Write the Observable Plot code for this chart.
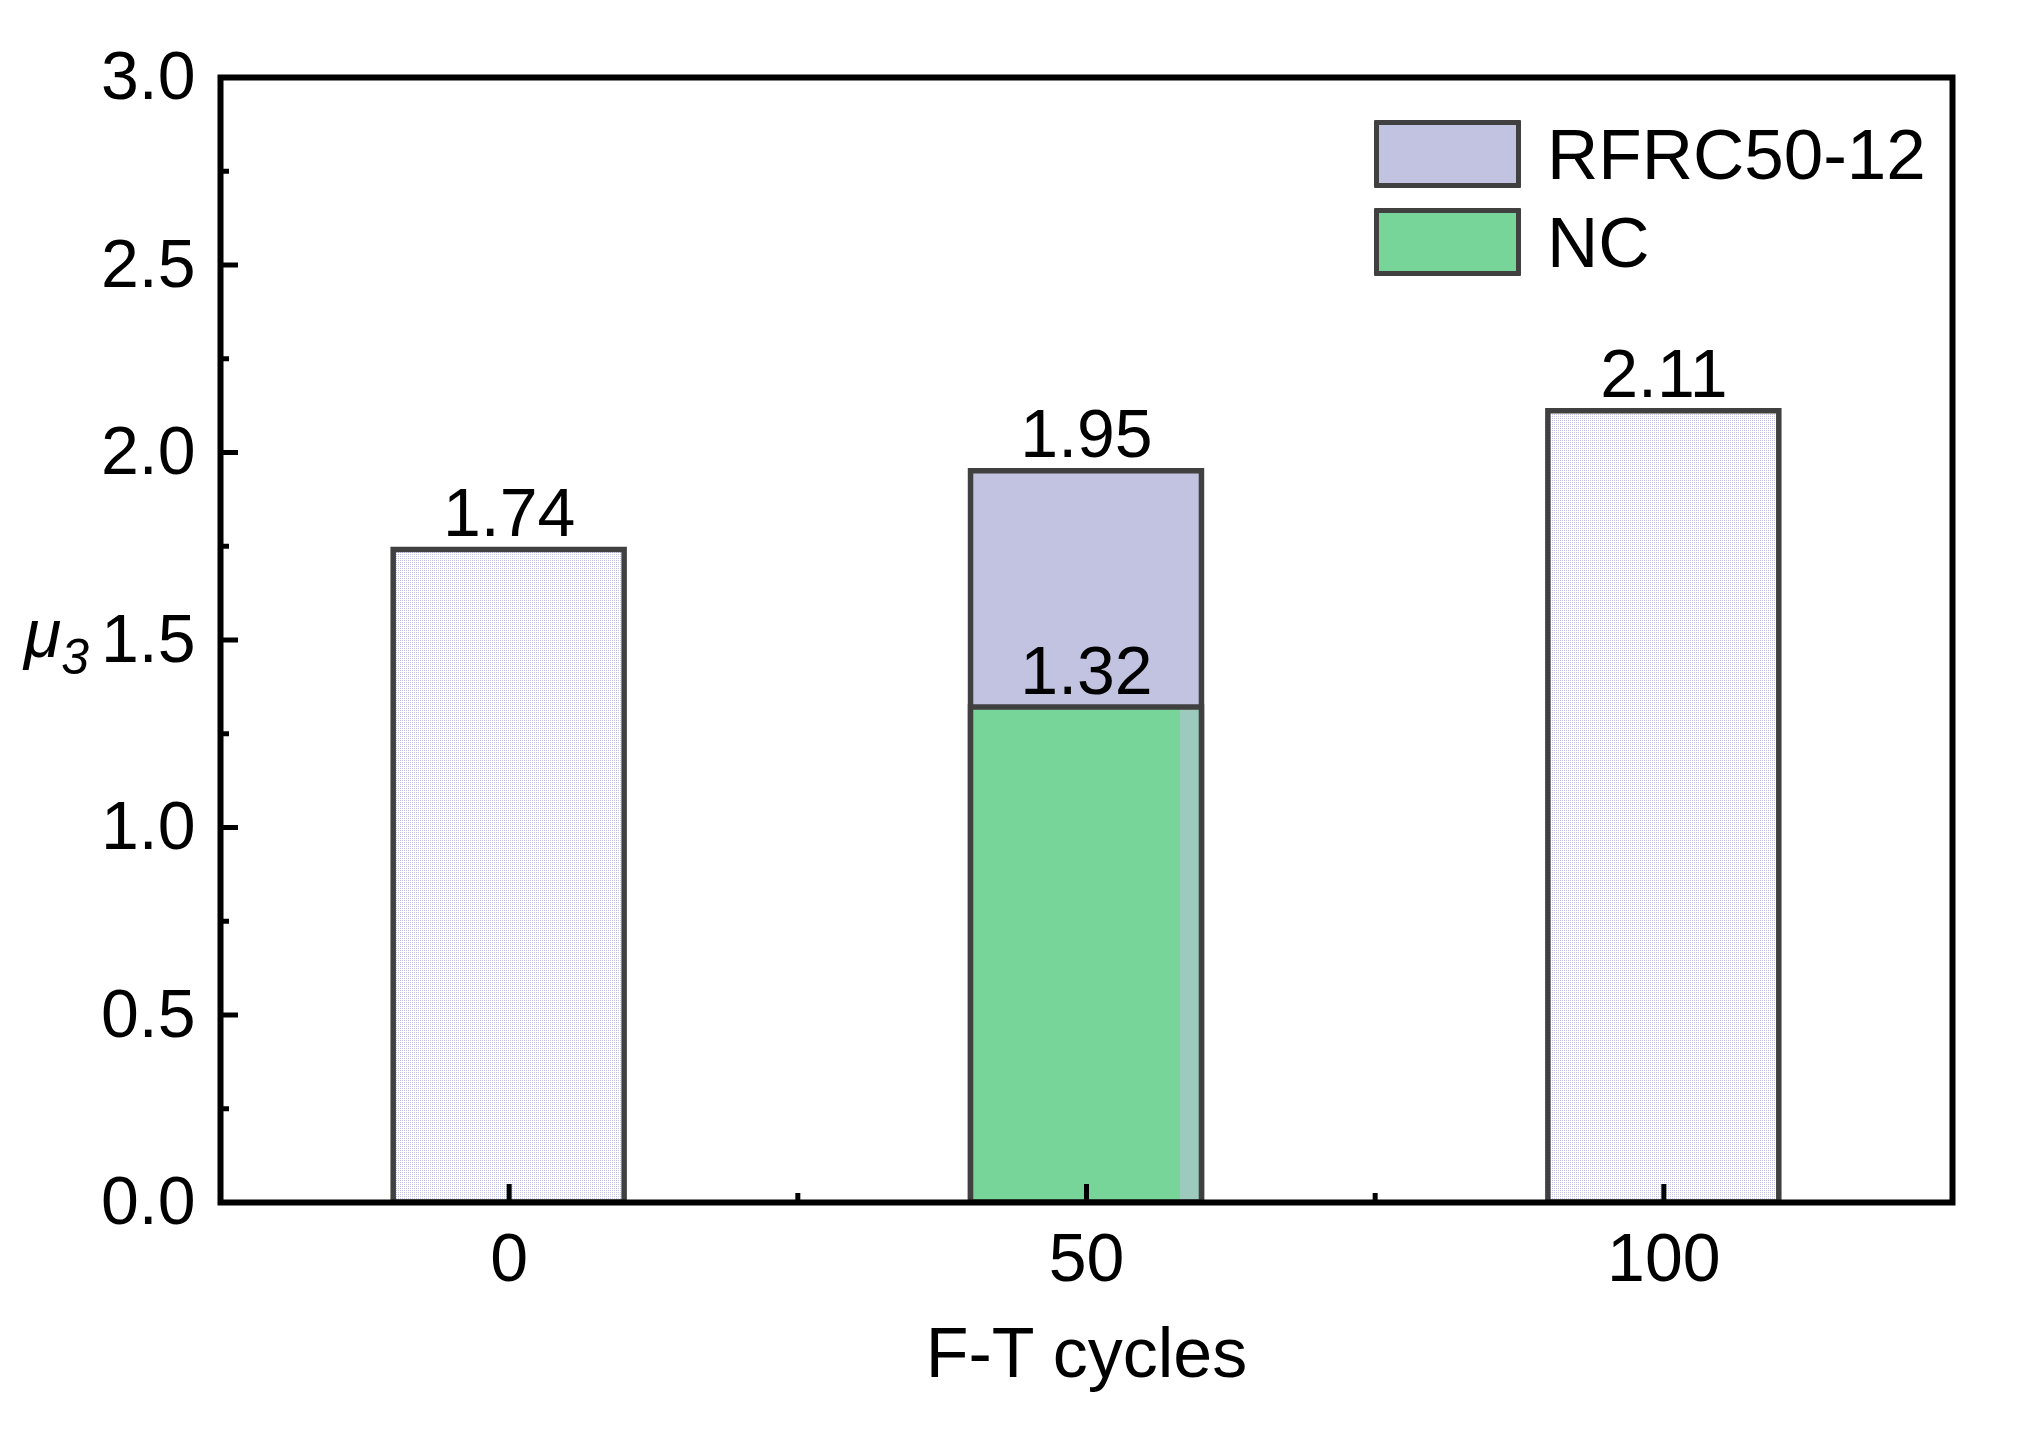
<!DOCTYPE html>
<html>
<head>
<meta charset="utf-8">
<script src="https://cdn.jsdelivr.net/npm/d3@7"></script>
<script src="https://cdn.jsdelivr.net/npm/@observablehq/plot@0.6"></script>
<style>
  html, body { margin: 0; padding: 0; background: #fff; }
  #wrap { position: relative; width: 2023px; height: 1450px; font-family: Arial, "Liberation Sans", sans-serif; }
  .legend { position: absolute; left: 1374px; top: 110px; }
  .legend .row { display: flex; align-items: center; height: 88px; }
  .legend .sw { width: 137px; height: 58px; border: 5px solid #404040; box-sizing: content-box; border-radius: 1px; }
  .legend .lab { margin-left: 26px; font-size: 71px; color: #000; line-height: 1; }
</style>
</head>
<body>
<div id="wrap"></div>
<script>
// ---- data ----
const cycles = [0, 50, 100];
const rfrcValues = [1.74, 1.95, 2.11];
const ncCycles = [50];
const ncValues = [1.32];
const seriesNames = ["RFRC50-12", "NC"];
const yMajorTicks = [0, 0.5, 1.0, 1.5, 2.0, 2.5, 3.0];
const yMinorTicks = [0.25, 0.75, 1.25, 1.75, 2.25, 2.75];
const xMajorTicks = [0, 50, 100];
const xMinorTicks = [25, 75];
const xAxisTitle = "F-T cycles";

// ---- styles ----
const lavender = "#c1c3e0";
const green = "#77d59a";
const edge = "#404040";
const barHalf = 10; // half bar width in x units
const fontSize = 68;

const rfrc = cycles.map((c, i) => ({cycle: c, value: rfrcValues[i], hasNC: ncCycles.includes(c)}));
const nc = ncCycles.map((c, i) => ({cycle: c, value: ncValues[i]}));

const chart = Plot.plot({
  width: 2023,
  height: 1450,
  marginLeft: 220,
  marginRight: 71,
  marginTop: 77,
  marginBottom: 248,
  style: {fontFamily: 'Arial, "Liberation Sans", sans-serif', background: "#fff", color: "#000", overflow: "visible"},
  x: {domain: [-25, 125]},
  y: {domain: [0, 3]},
  marks: [
    Plot.rect(rfrc, {
      x1: d => d.cycle - barHalf, x2: d => d.cycle + barHalf, y1: 0, y2: "value",
      fill: d => d.hasNC ? lavender : "url(#rfrcDots)", stroke: edge, strokeWidth: 5.5
    }),
    Plot.rect(nc, {
      x1: d => d.cycle - barHalf, x2: d => d.cycle + barHalf, y1: 0, y2: "value",
      fill: "url(#ncFill)", stroke: edge, strokeWidth: 5.5
    }),
    Plot.frame({stroke: "#000", strokeWidth: 6}),
    Plot.axisY({ticks: yMajorTicks, tickSize: -18, tickPadding: 43, tickFormat: d3.format(".1f"), fontSize, strokeWidth: 5, label: null}),
    Plot.axisY({ticks: yMinorTicks, tickSize: -9, tickFormat: () => "", strokeWidth: 5, label: null}),
    Plot.axisX({ticks: xMajorTicks, tickSize: -18, tickPadding: 48, tickFormat: d => String(d), fontSize, strokeWidth: 5, label: null}),
    Plot.axisX({ticks: xMinorTicks, tickSize: -9, tickFormat: () => "", strokeWidth: 5, label: null}),
    Plot.text(rfrc, {x: "cycle", y: "value", text: d => d.value.toFixed(2), lineAnchor: "bottom", dy: -14, fontSize, fill: "#000"}),
    Plot.text(nc, {x: "cycle", y: "value", text: d => d.value.toFixed(2), lineAnchor: "bottom", dy: -14, fontSize, fill: "#000"}),
    Plot.text([xAxisTitle], {text: d => d, frameAnchor: "bottom", lineAnchor: "bottom", dy: 174, fontSize: 70, fill: "#000"})
  ]
});

d3.select(chart).insert("defs", ":first-child").html(`
  <pattern id="rfrcDots" width="2" height="2" patternUnits="userSpaceOnUse">
    <rect width="2" height="2" fill="#ffffff"/>
    <rect width="1" height="1" fill="${lavender}"/>
  </pattern>
  <linearGradient id="ncFill" x1="0" x2="1" y1="0" y2="0">
    <stop offset="0" stop-color="${green}"/>
    <stop offset="0.905" stop-color="${green}"/>
    <stop offset="0.905" stop-color="#9ccbbd"/>
    <stop offset="1" stop-color="#9ccbbd"/>
  </linearGradient>`);

// y-axis label: μ with subscript 3
const yLab = chart.scale("y").apply(1.5);
const t = d3.select(chart).append("text")
  .attr("x", 24).attr("y", yLab + 17)
  .attr("text-anchor", "start")
  .attr("font-family", 'Arial, "Liberation Sans", sans-serif')
  .attr("font-style", "italic").attr("fill", "#000");
t.append("tspan").attr("font-size", 68).text("μ");
t.append("tspan").attr("font-size", 50).attr("dy", 17).text("3");

const wrap = document.getElementById("wrap");
wrap.appendChild(chart);

// legend (inside the frame, top right)
const legend = document.createElement("div");
legend.className = "legend";
[[seriesNames[0], lavender], [seriesNames[1], green]].forEach(([name, color]) => {
  const row = document.createElement("div");
  row.className = "row";
  const sw = document.createElement("div");
  sw.className = "sw";
  sw.style.background = color;
  const lab = document.createElement("div");
  lab.className = "lab";
  lab.textContent = name;
  row.appendChild(sw);
  row.appendChild(lab);
  legend.appendChild(row);
});
wrap.appendChild(legend);
</script>
</body>
</html>
